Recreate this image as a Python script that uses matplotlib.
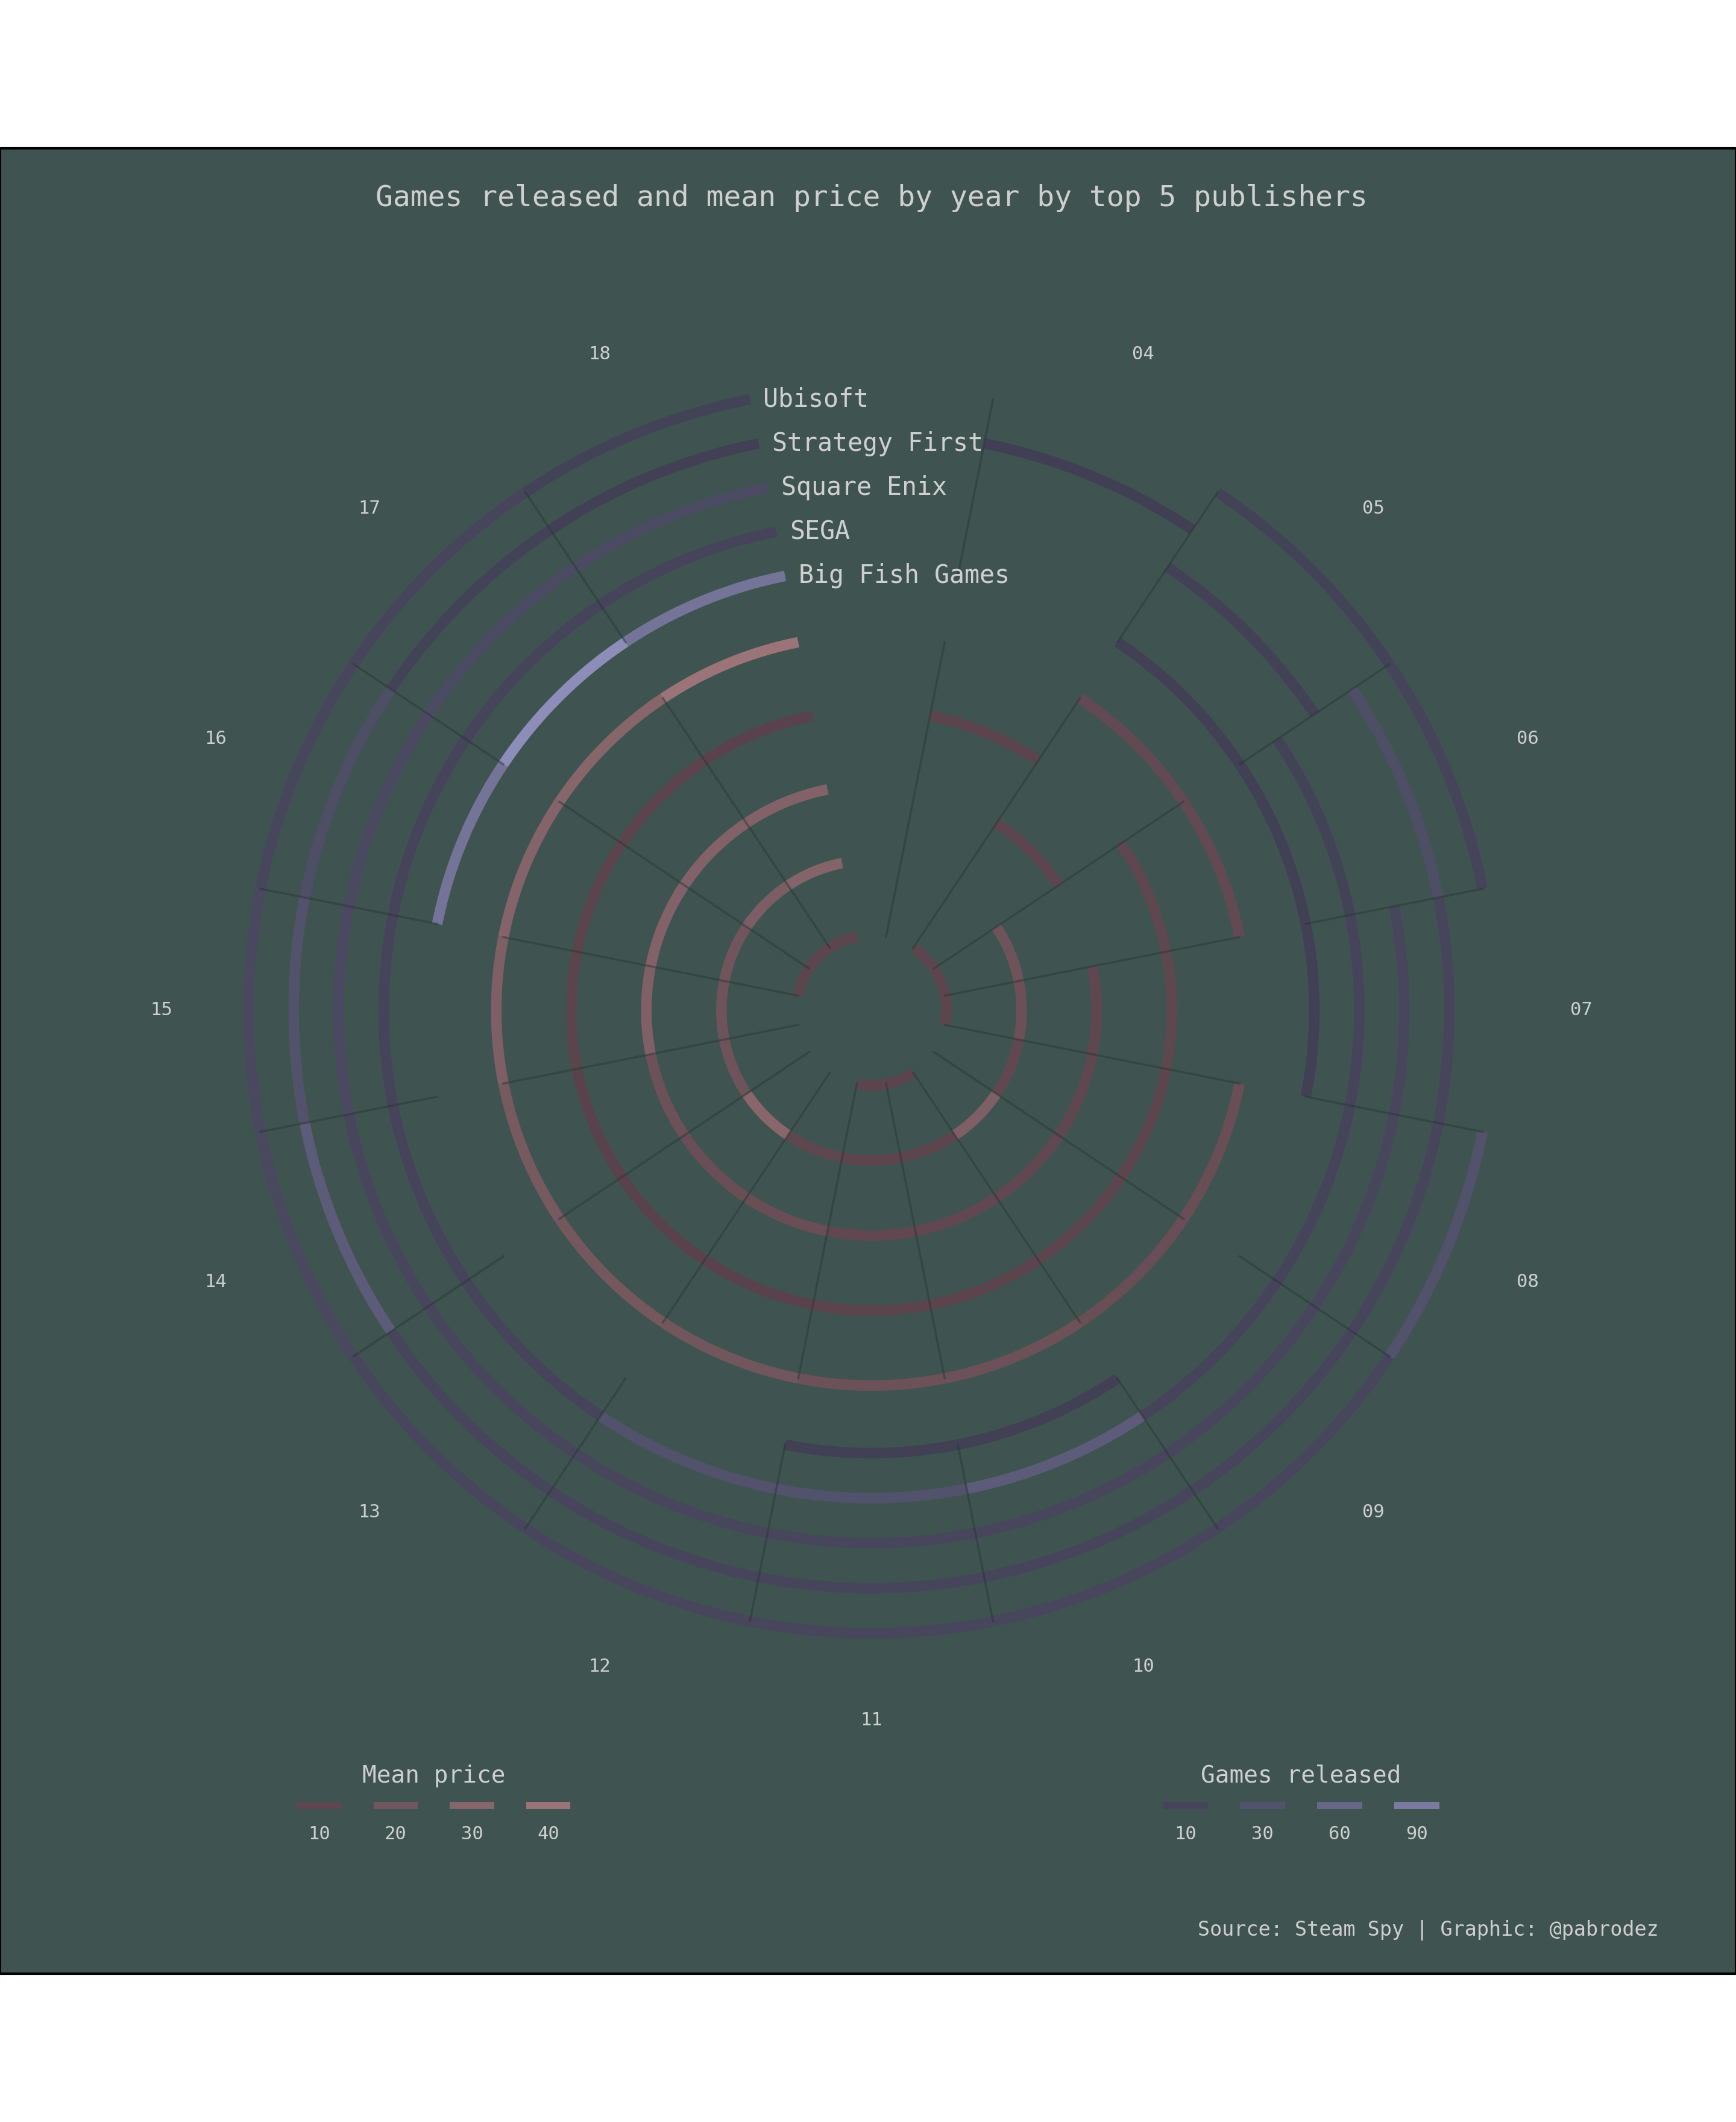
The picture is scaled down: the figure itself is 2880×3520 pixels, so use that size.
import numpy as np
import matplotlib
matplotlib.use("Agg")
import matplotlib.pyplot as plt
from matplotlib.colors import LinearSegmentedColormap, Normalize
from matplotlib.patches import Rectangle

nan = np.nan

# ---------------- data ----------------
years = ["04", "05", "06", "07", "08", "09", "10", "11", "12", "13", "14", "15", "16", "17", "18"]
publishers = ["Big Fish Games", "SEGA", "Square Enix", "Strategy First", "Ubisoft"]

# games released per year (NaN = no release)
games_bigfish = [nan, 5, 5, 5, nan, nan, 4, 4, nan, nan, nan, nan, 80, 115, 80]
games_sega = [nan, nan, 8, 10, 10, 10, 45, 30, 30, 10, 10, 10, 10, 10, 10]
games_squareenix = [nan, 6, nan, 14, 14, 14, 14, 14, 14, 14, 14, 18, 18, 20, 20]
games_strategyfirst = [3, nan, 25, 12, 12, 12, 12, 12, 12, 12, 45, 30, 25, 8, 4]
games_ubisoft = [nan, 8, 10, nan, 30, 14, 14, 14, 14, 14, 16, 16, 14, 12, 8]

# mean price per year
price_bigfish = [nan, 9, 9, 9, nan, nan, 8, 8, nan, nan, nan, nan, 9, 9, 9]
price_sega = [nan, nan, 18, 16, 11, 26, 9, 9, 10, 31, 18, 18, 19, 25, 29]
price_squareenix = [nan, 9, nan, 10, 10, 11, 11, 11, 15, 15, 17, 27, 28, 28, 28]
price_strategyfirst = [8, nan, 10, 10, 9, 9, 8, 8, 7, 7, 7, 8, 8, 8, 7]
price_ubisoft = [nan, 12, 12, nan, 15, 15, 17, 17, 20, 21, 22, 26, 29, 30, 40]

games_series = [games_bigfish, games_sega, games_squareenix, games_strategyfirst, games_ubisoft]
price_series = [price_bigfish, price_sega, price_squareenix, price_strategyfirst, price_ubisoft]

price_legend = [10, 20, 30, 40]
games_legend = [10, 30, 60, 90]

title = "Games released and mean price by year by top 5 publishers"
caption = "Source: Steam Spy | Graphic: @pabrodez"

# ---------------- style ----------------
BG = "#3f5450"
TXT = "#cfcfcf"
FONT = "DejaVu Sans Mono"
price_rings = [1.0, 2.0, 3.0, 4.0, 5.0]
games_rings = [5.9, 6.5, 7.1, 7.7, 8.3]
ARC_LW = 6.3
LINE_C = "#263531"

price_cmap = LinearSegmentedColormap.from_list("price", ["#4b3841", "#a47b80"])
price_norm = Normalize(0, 45)
games_cmap = LinearSegmentedColormap.from_list("games", ["#3e3d51", "#8f90bd"])
games_norm = Normalize(0, 120)

fig = plt.figure(figsize=(14.4, 17.6), dpi=200, facecolor="white")
fig.patches.append(Rectangle((0, 0.0698), 1, 0.8602, transform=fig.transFigure,
                             facecolor=BG, edgecolor="black", linewidth=1.5, zorder=-5))

ax = fig.add_axes([0.0697, 0.1702, 0.8646, 0.7074], projection="polar")
ax.set_zorder(1)
ax.set_theta_zero_location("N")
ax.set_theta_direction(-1)
ax.set_ylim(0, 10)
ax.axis("off")

step = np.deg2rad(22.5)
for i, yr in enumerate(years):
    tc = step * (i + 1)
    t0 = tc - step / 2
    th = np.linspace(t0, t0 + step, 60)
    for series, rings, cmap, norm in ((price_series, price_rings, price_cmap, price_norm),
                                      (games_series, games_rings, games_cmap, games_norm)):
        for vals, r in zip(series, rings):
            v = vals[i]
            if np.isnan(v):
                continue
            ax.plot(th, np.full_like(th, r), color=cmap(norm(v)), lw=ARC_LW,
                    solid_capstyle="butt", zorder=2)
    ax.plot([t0, t0], [price_rings[0], price_rings[-1]], color=LINE_C, lw=1.3, alpha=0.45, zorder=3)
    ax.plot([t0, t0], [games_rings[0], games_rings[-1]], color=LINE_C, lw=1.3, alpha=0.45, zorder=3)
    ax.text(tc, 9.46, yr, ha="center", va="center", fontsize=11, color=TXT,
            family=FONT, clip_on=False)

t_end = step * len(years) + step / 2
for name, r in zip(publishers, games_rings):
    ax.annotate(name, xy=(t_end, r), xytext=(8, 0), textcoords="offset points",
                ha="left", va="center", fontsize=15, color=TXT, family=FONT,
                annotation_clip=False)

fig.text(0.502, 0.9066, title, ha="center", va="center", fontsize=17.3,
         color=TXT, family=FONT)
fig.text(0.9556, 0.0903, caption, ha="right", va="center", fontsize=12,
         color=TXT, family=FONT)


def legend(x0, width, ttl, values, cmap, norm):
    lax = fig.add_axes([x0, 0.1241, width, 0.05])
    lax.set_zorder(1)
    lax.set_xlim(-0.5, len(values) - 0.5)
    lax.set_ylim(0, 1)
    lax.axis("off")
    for j, v in enumerate(values):
        lax.plot([j - 0.29, j + 0.29], [0.5, 0.5], color=cmap(norm(v)), lw=4.3,
                 solid_capstyle="butt")
        lax.text(j, 0.23, str(v), ha="center", va="center", fontsize=11,
                 color=TXT, family=FONT)
    lax.text((len(values) - 1) / 2, 0.78, ttl, ha="center", va="center",
             fontsize=14.2, color=TXT, family=FONT)


legend(0.1621, 0.1756, "Mean price", price_legend, price_cmap, price_norm)
legend(0.6606, 0.1778, "Games released", games_legend, games_cmap, games_norm)

fig.savefig("out.png", dpi=200, facecolor="white")
